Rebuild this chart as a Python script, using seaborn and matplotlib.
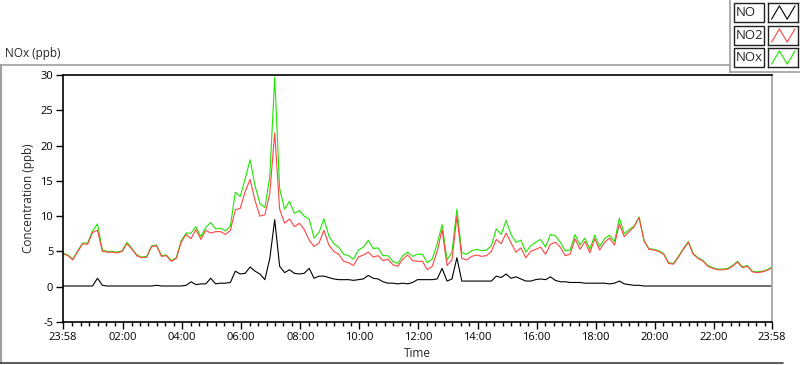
import numpy as np
import pandas as pd
import matplotlib
matplotlib.use('Agg')
import matplotlib.pyplot as plt
import matplotlib.dates as mdates
from matplotlib.patches import Rectangle
from matplotlib.lines import Line2D
import seaborn as sns

# values, one sample every 10 min from 23:58
no2 = [4.7, 4.4, 3.8, 5.0, 6.1, 6.0, 7.7, 8.0, 5.0, 4.9,
       4.9, 4.8, 5.0, 6.1, 5.3, 4.4, 4.1, 4.2, 5.7, 5.8,
       4.3, 4.4, 3.6, 4.0, 6.3, 7.4, 6.8, 8.1, 6.7, 8.0,
       7.6, 7.8, 7.8, 7.4, 8.0, 10.9, 11.1, 13.5, 15.2, 12.2,
       10.0, 10.2, 13.2, 21.8, 11.0, 9.0, 9.6, 8.5, 9.0, 8.1,
       6.6, 5.7, 6.2, 8.0, 5.9, 5.0, 4.6, 3.6, 3.4, 3.0,
       4.2, 4.5, 4.9, 4.2, 4.4, 3.7, 3.9, 3.1, 2.9, 3.9,
       4.5, 3.7, 3.6, 3.6, 2.4, 2.9, 5.0, 8.1, 3.0, 3.8,
       10.0, 4.0, 3.8, 4.3, 4.5, 4.3, 4.4, 5.0, 6.7, 6.1,
       7.6, 6.2, 4.9, 5.5, 4.1, 5.0, 5.3, 5.6, 4.6, 6.0,
       6.3, 5.6, 4.4, 4.6, 6.8, 5.3, 6.4, 4.8, 6.8, 5.2,
       6.3, 6.9, 5.9, 8.9, 7.1, 7.8, 8.5, 9.8, 6.5, 5.3,
       5.2, 5.0, 4.6, 3.3, 3.2, 4.2, 5.3, 6.3, 4.6, 4.0,
       3.6, 2.9, 2.6, 2.4, 2.4, 2.5, 2.9, 3.5, 2.7, 2.9,
       2.1, 2.0, 2.1, 2.3, 2.7]

nox = [4.8, 4.5, 3.9, 5.1, 6.2, 6.2, 7.9, 8.9, 5.2, 5.0,
       5.0, 4.9, 5.1, 6.3, 5.4, 4.5, 4.2, 4.3, 5.8, 5.9,
       4.4, 4.5, 3.7, 4.1, 6.5, 7.6, 7.6, 8.5, 7.1, 8.4,
       9.1, 8.2, 8.3, 7.9, 8.6, 13.4, 12.8, 15.3, 18.0, 14.3,
       11.8, 11.2, 15.6, 29.7, 13.9, 11.0, 12.1, 10.4, 10.8, 10.0,
       9.6, 6.9, 7.7, 9.6, 7.2, 6.1, 5.6, 4.6, 4.4, 3.9,
       5.2, 5.6, 6.6, 5.4, 5.5, 4.4, 4.4, 3.6, 3.3, 4.4,
       4.9, 4.3, 4.6, 4.6, 3.4, 3.9, 6.1, 8.8, 3.8, 4.9,
       11.0, 4.8, 4.6, 5.1, 5.3, 5.1, 5.2, 5.8, 8.2, 7.4,
       9.4, 7.4, 6.3, 6.6, 4.9, 5.8, 6.3, 6.7, 5.6, 7.4,
       7.2, 6.3, 5.1, 5.2, 7.4, 5.9, 6.9, 5.3, 7.3, 5.7,
       6.8, 7.3, 6.4, 9.7, 7.5, 8.1, 8.6, 9.9, 6.6, 5.4,
       5.3, 5.1, 4.7, 3.4, 3.3, 4.3, 5.4, 6.4, 4.7, 4.1,
       3.7, 3.0, 2.7, 2.5, 2.5, 2.6, 3.0, 3.6, 2.8, 3.0,
       2.2, 2.1, 2.2, 2.4, 2.8]

no = [0.1, 0.1, 0.1, 0.1, 0.1, 0.1, 0.1, 1.2, 0.2, 0.1,
      0.1, 0.1, 0.1, 0.1, 0.1, 0.1, 0.1, 0.1, 0.1, 0.2,
      0.1, 0.1, 0.1, 0.1, 0.1, 0.2, 0.7, 0.3, 0.4, 0.4,
      1.2, 0.4, 0.5, 0.5, 0.6, 2.2, 1.8, 1.9, 2.8, 2.2,
      1.8, 1.0, 4.0, 9.5, 2.9, 2.0, 2.4, 1.9, 1.8, 1.9,
      2.6, 1.2, 1.5, 1.5, 1.3, 1.1, 1.0, 1.0, 1.0, 0.9,
      1.0, 1.1, 1.6, 1.2, 1.1, 0.7, 0.5, 0.5, 0.4, 0.5,
      0.4, 0.6, 1.0, 1.0, 1.0, 1.0, 1.1, 2.6, 0.8, 1.1,
      4.1, 0.8, 0.8, 0.8, 0.8, 0.8, 0.8, 0.8, 1.5, 1.3,
      1.8, 1.2, 1.4, 1.1, 0.8, 0.8, 1.0, 1.1, 1.0, 1.4,
      0.9, 0.7, 0.7, 0.6, 0.6, 0.6, 0.5, 0.5, 0.5, 0.5,
      0.5, 0.4, 0.5, 0.8, 0.4, 0.3, 0.2, 0.2, 0.1, 0.1,
      0.1, 0.1, 0.1, 0.1, 0.1, 0.1, 0.1, 0.1, 0.1, 0.1,
      0.1, 0.1, 0.1, 0.1, 0.1, 0.1, 0.1, 0.1, 0.1, 0.1,
      0.1, 0.1, 0.1, 0.1, 0.1]

series_names = ['NO', 'NO2', 'NOx']
series_colors = ['#000000', '#ff4444', '#1ee600']
y_ticks = [-5, 0, 5, 10, 15, 20, 25, 30]

times = pd.date_range('2024-01-01 23:58', periods=len(no2), freq='10min')
df = pd.DataFrame({'Time': times, 'NO': no, 'NO2': no2, 'NOx': nox})

sns.set_style('white')
plt.rcParams['font.family'] = ['Open Sans', 'DejaVu Sans']
plt.rcParams['axes.unicode_minus'] = False

W, H = 800, 365
fig = plt.figure(figsize=(W / 100, H / 100), dpi=100)
ax = fig.add_axes([63 / W, 1 - 322 / H, (772 - 63) / W, (322 - 75) / H])

# NOx first, NO2 drawn over it, NO last
sns.lineplot(data=df, x='Time', y='NOx', color=series_colors[2], lw=0.8, ax=ax)
sns.lineplot(data=df, x='Time', y='NO2', color=series_colors[1], lw=0.8, ax=ax)
sns.lineplot(data=df, x='Time', y='NO', color=series_colors[0], lw=0.8, ax=ax)

ax.set_xlim(times[0], times[-1])
ax.set_ylim(-5, 30)
ax.set_yticks(y_ticks)
ax.set_yticklabels([str(v) for v in y_ticks])

# x ticks: ends at 23:58, majors every 2 h, minors at 1/7 of that
start = times[0]
majors = [start] + list(pd.date_range('2024-01-02 02:00', '2024-01-02 22:00', freq='2h')) + [times[-1]]
labels = [t.strftime('%H:%M') for t in majors]
ax.set_xticks(mdates.date2num(majors))
ax.set_xticklabels(labels)
step = pd.Timedelta(minutes=120 / 7)
anchor = pd.Timestamp('2024-01-02 02:00')
minors = []
t = anchor
while t > start:
    t = t - step
    if t > start + pd.Timedelta(minutes=5):
        minors.append(t)
t = anchor
while t < times[-1] - pd.Timedelta(minutes=5):
    minors.append(t)
    t = t + step
ax.set_xticks(mdates.date2num(minors), minor=True)

ax.tick_params(axis='both', which='major', direction='out', length=5, width=1,
               labelsize=8, colors='black', pad=2, left=True, bottom=True)
ax.tick_params(axis='x', which='minor', direction='out', length=3, width=1,
               colors='black', bottom=True)

for side in ['left', 'bottom', 'top']:
    ax.spines[side].set_color('black')
    ax.spines[side].set_linewidth(1.2)
ax.spines['right'].set_color('#a0a0a0')
ax.spines['right'].set_linewidth(1.2)

ax.set_xlabel('Time', fontsize=8.5, labelpad=3)
ax.set_ylabel('Concentration (ppb)', fontsize=8.5, labelpad=4)

# panel caption and frame
fig.text(5 / W, 1 - 53 / H, 'NOx (ppb)', fontsize=8.5, ha='left', va='center')
fig.add_artist(Line2D([0, 730 / W], [1 - 65 / H, 1 - 65 / H], color='#a0a0a0', lw=1.2))
fig.add_artist(Line2D([1 / W, 1 / W], [1 - 65 / H, 1 - 363 / H], color='#a0a0a0', lw=1.5))
fig.add_artist(Line2D([0, 783 / W], [1 - 363 / H, 1 - 363 / H], color='#404040', lw=1.2))

# plot legend box, top right
fig.add_artist(Line2D([730 / W, 730 / W], [1.0, 1 - 72 / H], color='#a0a0a0', lw=1.2))
fig.add_artist(Line2D([730 / W, 1.0], [1 - 72 / H, 1 - 72 / H], color='#a0a0a0', lw=1.2))
row_tops = [3, 26, 48]
for name, color, top in zip(series_names, series_colors, row_tops):
    y0 = 1 - (top + 19) / H
    h = 19 / H
    fig.add_artist(Rectangle((734 / W, y0), 30 / W, h, transform=fig.transFigure,
                             facecolor='white', edgecolor='#202020', lw=1.0))
    fig.text(736 / W, y0 + h / 2, name, fontsize=9.5, ha='left', va='center')
    sample = fig.add_axes([768 / W, y0, 30 / W, h])
    sample.plot([0.12, 0.38, 0.64, 0.9], [0.15, 0.85, 0.15, 0.85], color=color, lw=0.8)
    sample.set_xlim(0, 1)
    sample.set_ylim(0, 1)
    sample.set_xticks([])
    sample.set_yticks([])
    for s in sample.spines.values():
        s.set_color('#202020')
        s.set_linewidth(1.0)

fig.savefig('out.png', dpi=100, facecolor='white')
